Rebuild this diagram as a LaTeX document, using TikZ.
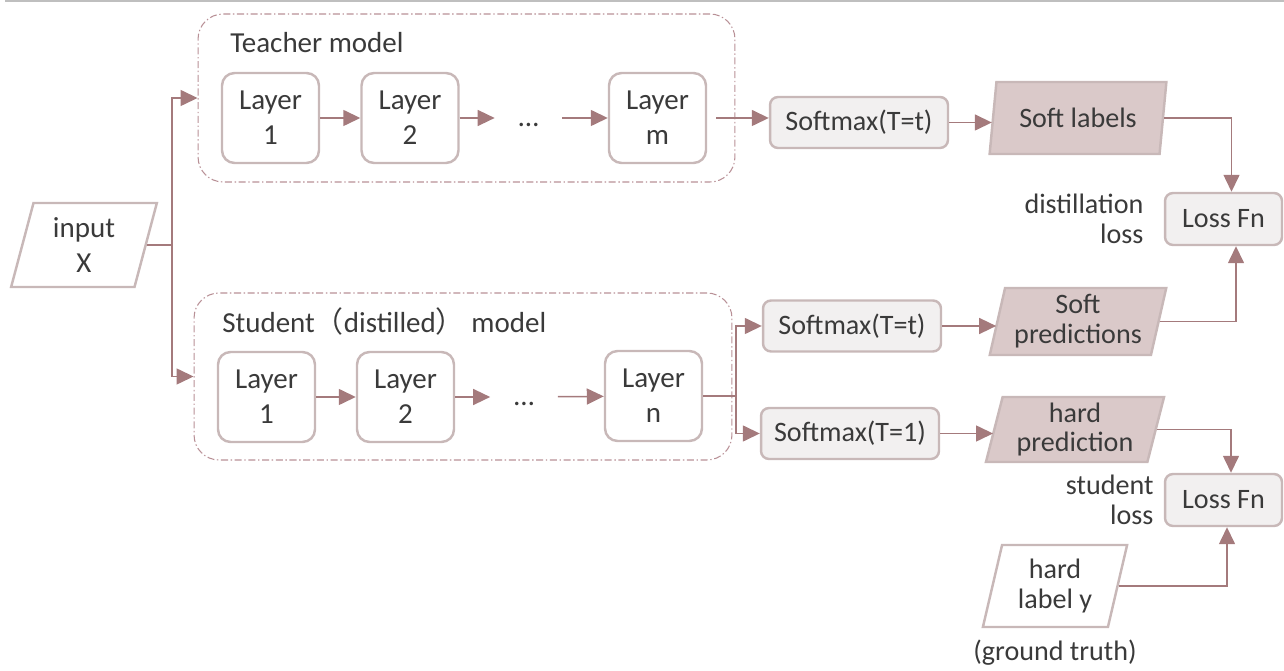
\documentclass[tikz,border=0pt]{standalone}
\usepackage{fontspec}
\setmainfont{Carlito}
\newfontfamily\cjk{Noto Sans CJK SC}
\usetikzlibrary{shapes.geometric,arrows.meta,positioning}

\definecolor{linkc}{RGB}{164,122,124}
\definecolor{edgec}{RGB}{200,184,184}
\definecolor{grpc}{RGB}{184,144,150}
\definecolor{boxfill}{RGB}{242,240,240}
\definecolor{outfill}{RGB}{218,201,201}
\definecolor{txtc}{RGB}{58,58,58}

\tikzset{
  layer/.style={draw=edgec, line width=1.4pt, fill=white, rounded corners=0.25cm,
    minimum width=1.94cm, minimum height=1.8cm, align=center},
  smbox/.style={draw=edgec, line width=1.4pt, fill=boxfill, rounded corners=0.16cm,
    minimum width=3.56cm, minimum height=1.02cm},
  lossbox/.style={smbox, minimum width=2.34cm, minimum height=1.04cm},
  iobox/.style={draw=edgec, line width=1.4pt, trapezium, trapezium left angle=76,
    trapezium right angle=104, trapezium stretches=true, align=center, inner sep=0pt},
  outbox/.style={iobox, fill=outfill, font=\fontsize{16}{17}\selectfont},
  grp/.style={draw=grpc, line width=0.6pt, rounded corners=0.5cm,
    dash pattern=on 4pt off 1.5pt on 0.8pt off 1.5pt},
  dots/.style={inner sep=0pt, minimum width=1.34cm, text height=0.35cm, text depth=0cm},
  arr/.style={draw=linkc, line width=0.85pt, -{Triangle[length=0.34cm,width=0.32cm]}},
}

\begin{document}
\begin{tikzpicture}[x=0.02cm, y=-0.02cm, font=\fontsize{16.5}{20}\selectfont, text=txtc]
\useasboundingbox (0,0) rectangle (1284,671);
\draw[line width=1.2pt, draw=black!25] (5,1) -- (1284,1);

% input
\node (inp) at (84,245) [iobox, minimum width=2.92cm, minimum height=1.68cm] {input\\X};

% teacher
\node (tgrp) at (466.5,98) [grp, minimum width=10.74cm, minimum height=3.36cm] {};
\node (ttitle) at (230,53) [anchor=base west, inner sep=0pt] {Teacher model};
\node (tl1) at (270.5,118) [layer] {Layer\\1};
\node (tl2) at (410,118) [layer] {Layer\\2};
\node (tdots) at (528.5,118) [dots] {…};
\node (tlm) at (657.5,118) [layer] {Layer\\m};
\draw [arr] (tl1) -- (tl2);
\draw [arr] (tl2) -- (tdots);
\draw [arr] (tdots) -- (tlm);

% student
\node (sgrp) at (463,376.5) [grp, minimum width=10.76cm, minimum height=3.34cm] {};
\node (stitle) at (222,333) [anchor=base west, inner sep=0pt] {Student{\cjk（}distilled{\cjk）} model};
\node (sl1) at (266.5,397) [layer] {Layer\\1};
\node (sl2) at (405.5,397) [layer] {Layer\\2};
\node (sdots) at (524,397) [dots] {…};
\node (sln) at (653.5,396) [layer] {Layer\\n};
\draw [arr] (sl1) -- (sl2);
\draw [arr] (sl2) -- (sdots);
\draw [arr] (sdots) -- (sln);

\draw [arr] (inp.east) -- ++(25,0) |- (tgrp.west);
\draw [arr] (inp.east) -- ++(25,0) |- (sgrp.west);

% softmax and outputs
\node (smt) at (859,122.5) [smbox, font=\fontsize{16}{17}\selectfont] {Softmax(T=t)};
\node (smst) at (852,326) [smbox, font=\fontsize{16}{17}\selectfont] {Softmax(T=t)};
\node (smso) at (850,433.5) [smbox, font=\fontsize{16}{17}\selectfont] {Softmax(T=1)};
\node (slab) at (1078,118) [outbox, minimum width=3.56cm, minimum height=1.44cm] {Soft labels};
\node (spred) at (1078,321.5) [outbox, minimum width=3.56cm, minimum height=1.34cm] {Soft\\predictions};
\node (hpred) at (1075,429.5) [outbox, minimum width=3.58cm, minimum height=1.3cm] {hard\\prediction};
\node (hlab) at (1055,586) [iobox, minimum width=2.9cm, minimum height=1.64cm, font=\fontsize{16}{17}\selectfont] {hard\\label y};
\node (gt) [below=0.12cm of hlab, font=\fontsize{16}{17}\selectfont] {(ground truth)};

\draw [arr] ([xshift=0.18cm]tlm.east) -- (tlm.east -| smt.west);
\draw [arr] (smt.east) -- (smt.east -| slab.west);
\draw [arr] (sln.east) -- ++(33,0) |- (smst.west);
\draw [arr] (sln.east) -- ++(33,0) |- (smso.west);
\draw [arr] (smst.east) -- (smst.east -| spred.west);
\draw [arr] (smso.east) -- (smso.east -| hpred.west);

% losses
\node (loss1) at (1223.5,219) [lossbox, font=\fontsize{16}{17}\selectfont] {Loss Fn};
\node (dloss) [left=0.4cm of loss1, align=right, inner sep=0pt, font=\fontsize{16}{17}\selectfont] {distillation\\loss};
\node (loss2) at (1223.5,500) [lossbox, font=\fontsize{16}{17}\selectfont] {Loss Fn};
\node (sloss) [left=0.2cm of loss2, align=right, inner sep=0pt, font=\fontsize{16}{17}\selectfont] {student\\loss};

\draw [arr] (slab.east) -| ([xshift=0.16cm]loss1.north);
\draw [arr] (spred.east) -| ([xshift=0.25cm]loss1.south);
\draw [arr] (hpred.east) -| ([xshift=0.15cm]loss2.north);
\draw [arr] (hlab.east) -| ([xshift=0.07cm]loss2.south);
\end{tikzpicture}
\end{document}
